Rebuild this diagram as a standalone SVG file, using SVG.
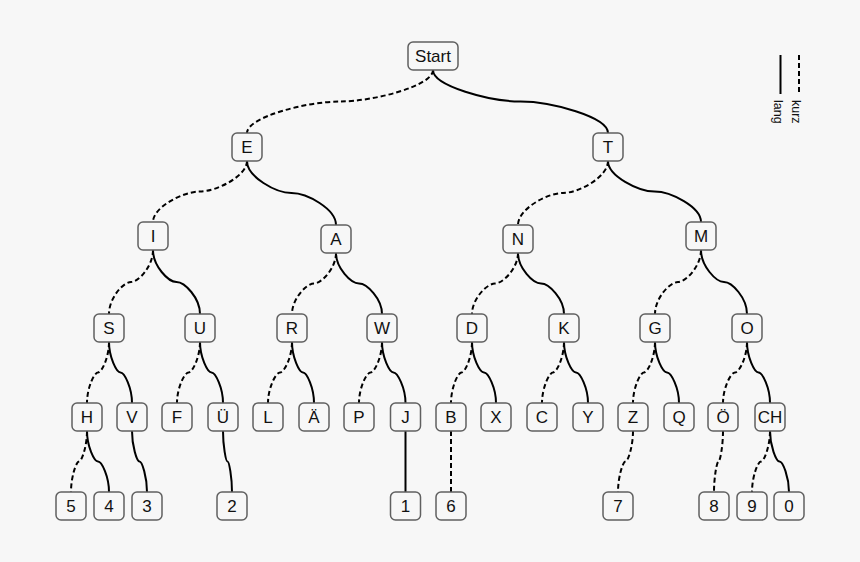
<svg xmlns="http://www.w3.org/2000/svg" width="860" height="562" viewBox="0 0 860 562">
<style>
.bg{fill:#f7f7f7}
.n rect{fill:#f7f7f7;stroke:#606060;stroke-width:1.5}
.n text,.lg text{font-family:"Liberation Sans",Arial,sans-serif;fill:#111}
.n text{font-size:17px;text-anchor:middle}
.lg text{font-size:12.5px}
.c path,.lg line{fill:none;stroke:#000;stroke-width:2}
.c .k,.lg .k{stroke-dasharray:5 3}
</style>
<rect class="bg" x="0" y="0" width="860" height="562"/>
<g id="connectors" class="c">
<path class="k" d="M433 70 C433 86 373 101.5 340 101.5 C307 101.5 247 117 247 133"/>
<path d="M433 70 C433 86 490 101.5 520.5 101.5 C551 101.5 608 117 608 133"/>
<path class="k" d="M247 161 C247 176 216.5 191.5 200 191.5 C183.5 191.5 153 207 153 222"/>
<path d="M247 161 C247 177 276 193 291.5 193 C307 193 336 209 336 225"/>
<path class="k" d="M608 161 C608 177 578.8 193 563 193 C547.2 193 518 209 518 225"/>
<path d="M608 161 C608 176 638.2 191.5 654.5 191.5 C670.8 191.5 701 207 701 222"/>
<path class="k" d="M153 250 C153 266 138.7 282 131 282 C123.3 282 109 298 109 314"/>
<path d="M153 250 C153 266 168.3 282 176.5 282 C184.7 282 200 298 200 314"/>
<path class="k" d="M336 253 C336 268 321.7 283.5 314 283.5 C306.3 283.5 292 299 292 314"/>
<path d="M336 253 C336 268 351 283.5 359 283.5 C367 283.5 382 299 382 314"/>
<path class="k" d="M518 253 C518 268 503 283.5 495 283.5 C487 283.5 472 299 472 314"/>
<path d="M518 253 C518 268 533 283.5 541 283.5 C549 283.5 564 299 564 314"/>
<path class="k" d="M701 250 C701 266 686 282 678 282 C670 282 655 298 655 314"/>
<path d="M701 250 C701 266 716 282 724 282 C732 282 747 298 747 314"/>
<path class="k" d="M109 342 C109 357 101.9 372.5 98 372.5 C94.1 372.5 87 388 87 403"/>
<path d="M109 342 C109 357 116.5 372.5 120.5 372.5 C124.5 372.5 132 388 132 403"/>
<path class="k" d="M200 342 C200 357 192.5 372.5 188.5 372.5 C184.5 372.5 177 388 177 403"/>
<path d="M200 342 C200 357 207.5 372.5 211.5 372.5 C215.5 372.5 223 388 223 403"/>
<path class="k" d="M292 342 C292 357 284.2 372.5 280 372.5 C275.8 372.5 268 388 268 403"/>
<path d="M292 342 C292 357 299.2 372.5 303 372.5 C306.8 372.5 314 388 314 403"/>
<path class="k" d="M382 342 C382 357 374.5 372.5 370.5 372.5 C366.5 372.5 359 388 359 403"/>
<path d="M382 342 C382 357 389.5 372.5 393.5 372.5 C397.5 372.5 405.5 388 405.5 403"/>
<path class="k" d="M472 342 C472 357 465.2 372.5 461.5 372.5 C457.8 372.5 451 388 451 403"/>
<path d="M472 342 C472 357 479.8 372.5 484 372.5 C488.2 372.5 496 388 496 403"/>
<path class="k" d="M564 342 C564 357 556.8 372.5 553 372.5 C549.2 372.5 542 388 542 403"/>
<path d="M564 342 C564 357 571.8 372.5 576 372.5 C580.2 372.5 588 388 588 403"/>
<path class="k" d="M655 342 C655 357 647.8 372.5 644 372.5 C640.2 372.5 633 388 633 403"/>
<path d="M655 342 C655 357 662.8 372.5 667 372.5 C671.2 372.5 679 388 679 403"/>
<path class="k" d="M747 342 C747 357 739.2 372.5 735 372.5 C730.8 372.5 723 388 723 403"/>
<path d="M747 342 C747 357 754.5 372.5 758.5 372.5 C762.5 372.5 770 388 770 403"/>
<path class="k" d="M87 431 C87 446 81.8 461.5 79 461.5 C76.2 461.5 71 477 71 492"/>
<path d="M87 431 C87 446 94.1 461.5 98 461.5 C101.9 461.5 109 477 109 492"/>
<path d="M132 431 C132 446 136.9 461.5 139.5 461.5 C142.1 461.5 147 477 147 492"/>
<path d="M223 431 C223 446 225.9 461.5 227.5 461.5 C229.1 461.5 232 477 232 492"/>
<path d="M405.5 431 V492"/>
<path class="k" d="M451 431 V492"/>
<path class="k" d="M633 431 C633 446 628.1 461.5 625.5 461.5 C622.9 461.5 618 477 618 492"/>
<path class="k" d="M723 431 C723 446 720.1 461.5 718.5 461.5 C716.9 461.5 714 477 714 492"/>
<path class="k" d="M770 431 C770 446 764.2 461.5 761 461.5 C757.8 461.5 752 477 752 492"/>
<path d="M770 431 C770 446 776.2 461.5 779.5 461.5 C782.8 461.5 789 477 789 492"/>
</g>
<g id="n-start" class="n"><rect x="408" y="42" width="50" height="28" rx="5"/><text x="433" y="62">Start</text></g>
<g id="n-E" class="n"><rect x="232" y="133" width="30" height="28" rx="5"/><text x="247" y="153">E</text></g>
<g id="n-T" class="n"><rect x="593" y="133" width="30" height="28" rx="5"/><text x="608" y="153">T</text></g>
<g id="n-I" class="n"><rect x="138" y="222" width="30" height="28" rx="5"/><text x="153" y="242">I</text></g>
<g id="n-A" class="n"><rect x="321" y="225" width="30" height="28" rx="5"/><text x="336" y="245">A</text></g>
<g id="n-N" class="n"><rect x="503" y="225" width="30" height="28" rx="5"/><text x="518" y="245">N</text></g>
<g id="n-M" class="n"><rect x="686" y="222" width="30" height="28" rx="5"/><text x="701" y="242">M</text></g>
<g id="n-S" class="n"><rect x="94" y="314" width="30" height="28" rx="5"/><text x="109" y="334">S</text></g>
<g id="n-U" class="n"><rect x="185" y="314" width="30" height="28" rx="5"/><text x="200" y="334">U</text></g>
<g id="n-R" class="n"><rect x="277" y="314" width="30" height="28" rx="5"/><text x="292" y="334">R</text></g>
<g id="n-W" class="n"><rect x="367" y="314" width="30" height="28" rx="5"/><text x="382" y="334">W</text></g>
<g id="n-D" class="n"><rect x="457" y="314" width="30" height="28" rx="5"/><text x="472" y="334">D</text></g>
<g id="n-K" class="n"><rect x="549" y="314" width="30" height="28" rx="5"/><text x="564" y="334">K</text></g>
<g id="n-G" class="n"><rect x="640" y="314" width="30" height="28" rx="5"/><text x="655" y="334">G</text></g>
<g id="n-O" class="n"><rect x="732" y="314" width="30" height="28" rx="5"/><text x="747" y="334">O</text></g>
<g id="n-H" class="n"><rect x="72" y="403" width="30" height="28" rx="5"/><text x="87" y="423">H</text></g>
<g id="n-V" class="n"><rect x="117" y="403" width="30" height="28" rx="5"/><text x="132" y="423">V</text></g>
<g id="n-F" class="n"><rect x="162" y="403" width="30" height="28" rx="5"/><text x="177" y="423">F</text></g>
<g id="n-UE" class="n"><rect x="208" y="403" width="30" height="28" rx="5"/><text x="223" y="423">Ü</text></g>
<g id="n-L" class="n"><rect x="253" y="403" width="30" height="28" rx="5"/><text x="268" y="423">L</text></g>
<g id="n-AE" class="n"><rect x="299" y="403" width="30" height="28" rx="5"/><text x="314" y="423">Ä</text></g>
<g id="n-P" class="n"><rect x="344" y="403" width="30" height="28" rx="5"/><text x="359" y="423">P</text></g>
<g id="n-J" class="n"><rect x="390.5" y="403" width="30" height="28" rx="5"/><text x="405.5" y="423">J</text></g>
<g id="n-B" class="n"><rect x="436" y="403" width="30" height="28" rx="5"/><text x="451" y="423">B</text></g>
<g id="n-X" class="n"><rect x="481" y="403" width="30" height="28" rx="5"/><text x="496" y="423">X</text></g>
<g id="n-C" class="n"><rect x="527" y="403" width="30" height="28" rx="5"/><text x="542" y="423">C</text></g>
<g id="n-Y" class="n"><rect x="573" y="403" width="30" height="28" rx="5"/><text x="588" y="423">Y</text></g>
<g id="n-Z" class="n"><rect x="618" y="403" width="30" height="28" rx="5"/><text x="633" y="423">Z</text></g>
<g id="n-Q" class="n"><rect x="664" y="403" width="30" height="28" rx="5"/><text x="679" y="423">Q</text></g>
<g id="n-OE" class="n"><rect x="708" y="403" width="30" height="28" rx="5"/><text x="723" y="423">Ö</text></g>
<g id="n-CH" class="n"><rect x="755" y="403" width="30" height="28" rx="5"/><text x="770" y="423">CH</text></g>
<g id="n-5" class="n"><rect x="56" y="492" width="30" height="28" rx="5"/><text x="71" y="512">5</text></g>
<g id="n-4" class="n"><rect x="94" y="492" width="30" height="28" rx="5"/><text x="109" y="512">4</text></g>
<g id="n-3" class="n"><rect x="132" y="492" width="30" height="28" rx="5"/><text x="147" y="512">3</text></g>
<g id="n-2" class="n"><rect x="217" y="492" width="30" height="28" rx="5"/><text x="232" y="512">2</text></g>
<g id="n-1" class="n"><rect x="390.5" y="492" width="30" height="28" rx="5"/><text x="405.5" y="512">1</text></g>
<g id="n-6" class="n"><rect x="436" y="492" width="30" height="28" rx="5"/><text x="451" y="512">6</text></g>
<g id="n-7" class="n"><rect x="603" y="492" width="30" height="28" rx="5"/><text x="618" y="512">7</text></g>
<g id="n-8" class="n"><rect x="699" y="492" width="30" height="28" rx="5"/><text x="714" y="512">8</text></g>
<g id="n-9" class="n"><rect x="737" y="492" width="30" height="28" rx="5"/><text x="752" y="512">9</text></g>
<g id="n-0" class="n"><rect x="774" y="492" width="30" height="28" rx="5"/><text x="789" y="512">0</text></g>
<g id="legend" class="lg">
<line x1="780.5" y1="55" x2="780.5" y2="94"/>
<line class="k" x1="799" y1="55" x2="799" y2="94"/>
<text transform="translate(774 100) rotate(90)">lang</text>
<text transform="translate(792 100) rotate(90)">kurz</text>
</g>
</svg>
